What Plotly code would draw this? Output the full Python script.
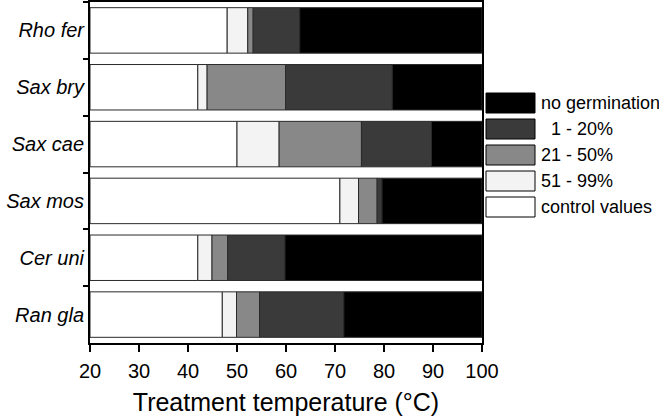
import plotly.graph_objects as go

species = ["Rho fer", "Sax bry", "Sax cae", "Sax mos", "Cer uni", "Ran gla"]
# upper temperature limit (°C) of each germination class, per species
control_end = [48, 42, 50, 71, 42, 47]
c51_99_end = [52.2, 43.9, 58.6, 74.8, 44.9, 49.9]
c21_50_end = [53.3, 59.9, 75.4, 78.6, 48.1, 54.6]
c1_20_end = [62.8, 81.7, 89.7, 79.6, 59.8, 71.8]
none_end = [100, 100, 100, 100, 100, 100]

class_names = ["control values", "51 - 99%", "21 - 50%", "  1 - 20%", "no germination"]
class_colors = ["#ffffff", "#f3f3f3", "#888888", "#3a3a3a", "#000000"]

x_min, x_max = 20, 100
x_ticks = [20, 30, 40, 50, 60, 70, 80, 90, 100]

ends = [control_end, c51_99_end, c21_50_end, c1_20_end, none_end]
fig = go.Figure()
prev = [x_min] * len(species)
for name, color, e in zip(class_names, class_colors, ends):
    widths = [b - a for a, b in zip(prev, e)]
    fig.add_trace(go.Bar(
        y=species, x=widths, base=prev, orientation="h", name=name,
        marker=dict(color=color, line=dict(color="#2a2a2a", width=1)),
        width=0.8, showlegend=False,
    ))
    prev = e

FONT = "Liberation Sans, Arial, sans-serif"
W, H = 659, 416
L, R, T, B = 90, 177, 2, 73
fig.update_layout(
    width=W, height=H, barmode="overlay",
    margin=dict(l=L, r=R, t=T, b=B, autoexpand=False),
    paper_bgcolor="white", plot_bgcolor="white",
    font=dict(family=FONT, color="black"),
)
fig.update_xaxes(
    range=[x_min, x_max], tickvals=x_ticks, showgrid=False, zeroline=False,
    showline=True, linecolor="black", linewidth=2, mirror=True,
    ticks="outside", ticklen=7, tickwidth=1.5, tickcolor="black",
    ticklabelstandoff=2,
    tickfont=dict(size=20, family=FONT),
    title=dict(text="Treatment temperature (°C)", font=dict(size=25, family=FONT), standoff=14),
)
fig.update_yaxes(
    categoryorder="array", categoryarray=species, autorange="reversed",
    showgrid=False, showline=True, linecolor="black", linewidth=2, mirror=True,
    ticks="outside", tickson="boundaries", ticklen=5, tickwidth=1.5, tickcolor="black",
    tickfont=dict(size=20, family=FONT, style="italic"),
)

# manual legend (top entry = darkest class)
plot_w = W - L - R
plot_h = H - T - B
def px_to_paper(px, py):
    return (px - L) / plot_w, (H - B - py) / plot_h

leg_order = list(zip(class_names, class_colors))[::-1]
row0, step = 103, 26
for i, (name, color) in enumerate(leg_order):
    cy = row0 + i * step
    x0, y0 = px_to_paper(486, cy - 10)
    x1, y1 = px_to_paper(535, cy + 10)
    fig.add_shape(type="rect", xref="paper", yref="paper", x0=x0, x1=x1, y0=y0, y1=y1,
                  fillcolor=color, line=dict(color="black", width=1))
    tx, ty = px_to_paper(539, cy)
    fig.add_annotation(xref="paper", yref="paper", x=tx, y=ty,
                       text=name.replace(" ", "&nbsp;"),
                       showarrow=False, xanchor="left", yanchor="middle",
                       font=dict(size=18, family=FONT, color="black"))

fig.write_html("out.html", config={"displayModeBar": False},
               post_script="document.body.style.margin='0';document.body.style.overflow='hidden';")
